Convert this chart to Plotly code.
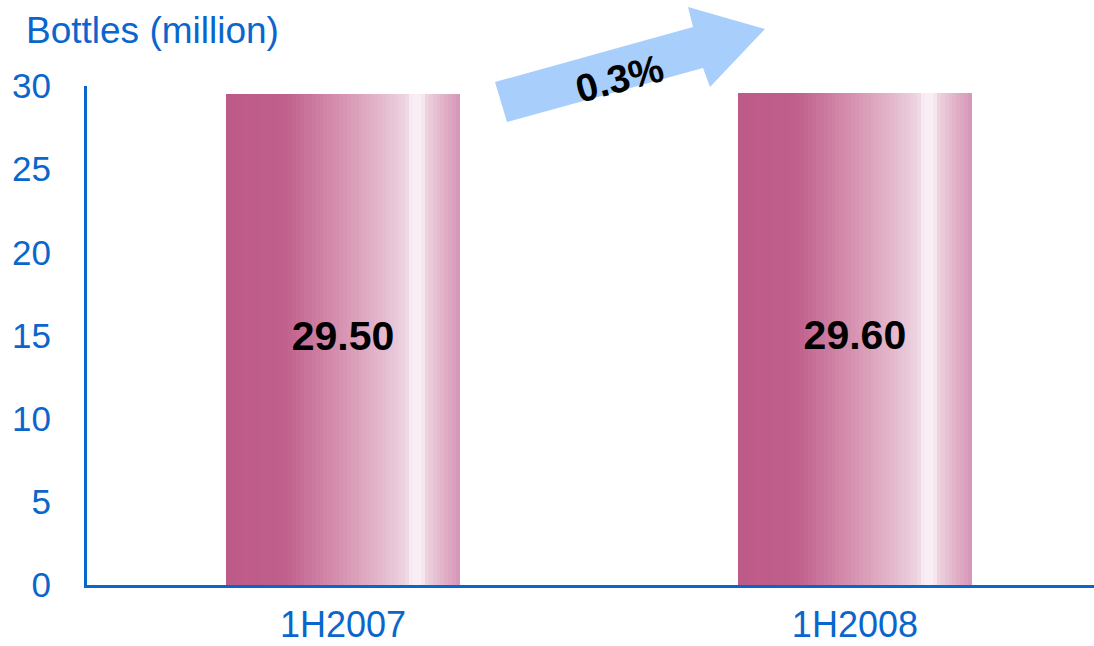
import plotly.graph_objects as go

# ---- data ----
categories = ["1H2007", "1H2008"]
values = [29.50, 29.60]
value_labels = ["29.50", "29.60"]
y_ticks = [0, 5, 10, 15, 20, 25, 30]
growth_label = "0.3%"
y_title = "Bottles (million)"

# ---- style ----
W, H = 1094, 646
ML, MR, MT, MB = 87, 0, 86, 61
BLUE = "#0A66CC"
FONT = "Arial, Liberation Sans, sans-serif"
BAR_W = 0.457
N = 60

stops = [
    (0.00, (190, 90, 136)),
    (0.25, (192, 95, 140)),
    (0.45, (210, 138, 170)),
    (0.65, (227, 181, 203)),
    (0.77, (237, 212, 225)),
    (0.795, (249, 238, 244)),
    (0.835, (249, 238, 244)),
    (0.86, (236, 207, 221)),
    (1.00, (214, 150, 182)),
]

def grad(t):
    for (t0, c0), (t1, c1) in zip(stops[:-1], stops[1:]):
        if t0 <= t <= t1:
            f = (t - t0) / (t1 - t0) if t1 > t0 else 0
            return "rgb(%d,%d,%d)" % tuple(round(a + (b - a) * f) for a, b in zip(c0, c1))
    return "rgb(%d,%d,%d)" % stops[-1][1]

fig = go.Figure()
sw = BAR_W / N
for i in range(N):
    t = (i + 0.5) / N
    w = sw * 1.6 if i < N - 1 else sw
    fig.add_trace(go.Bar(
        x=categories, y=values, width=w, offset=-BAR_W / 2 + i * sw,
        marker=dict(color=grad(t), line=dict(width=0)),
        showlegend=False, hoverinfo="skip",
    ))

# value labels at mid-height of bars
fig.add_trace(go.Scatter(
    x=categories, y=[v / 2 for v in values], mode="text", text=value_labels,
    textfont=dict(family=FONT, size=41, color="black", weight="bold"),
    showlegend=False, hoverinfo="skip",
))

def px2paper(px, py):
    return (px - ML) / (W - ML - MR), (H - MB - py) / (H - MT - MB)

arrow_px = [(495, 82), (693, 27), (688, 7), (765, 29), (710, 87), (703, 68), (507, 122)]
pts = [px2paper(x, y) for x, y in arrow_px]
path = "M " + " L ".join("%f,%f" % p for p in pts) + " Z"
fig.add_shape(type="path", path=path, xref="paper", yref="paper",
              fillcolor="#A8CEFB", line=dict(width=0), layer="above")

tx, ty = px2paper(619, 78)
fig.add_annotation(x=tx, y=ty, xref="paper", yref="paper", text="<b>%s</b>" % growth_label,
                   showarrow=False, textangle=-15, xanchor="center", yanchor="middle",
                   font=dict(family=FONT, size=39, color="black"))

ax, ay = px2paper(24, 30)
fig.add_annotation(x=ax, y=ay, xref="paper", yref="paper", text=y_title,
                   showarrow=False, xanchor="left", yanchor="middle",
                   font=dict(family=FONT, size=37, color=BLUE))

fig.update_layout(
    width=W, height=H, margin=dict(l=ML, r=MR, t=MT, b=MB, autoexpand=False),
    paper_bgcolor="white", plot_bgcolor="rgba(0,0,0,0)",
    barmode="overlay", bargap=0,
    font=dict(family=FONT, color=BLUE),
    xaxis=dict(type="category", range=[-0.5, 1.467], showgrid=False, zeroline=False,
               automargin=False,
               showline=True, linecolor=BLUE, linewidth=3,
               ticks="outside", ticklen=6, tickcolor="rgba(0,0,0,0)",
               tickfont=dict(size=36, color=BLUE, family=FONT)),
    yaxis=dict(range=[0, 30], tickvals=y_ticks, showgrid=False, zeroline=False,
               automargin=False,
               showline=True, linecolor=BLUE, linewidth=3,
               ticks="outside", ticklen=26, tickcolor="rgba(0,0,0,0)",
               tickfont=dict(size=35, color=BLUE, family=FONT)),
)

fig.write_html("out.html")
